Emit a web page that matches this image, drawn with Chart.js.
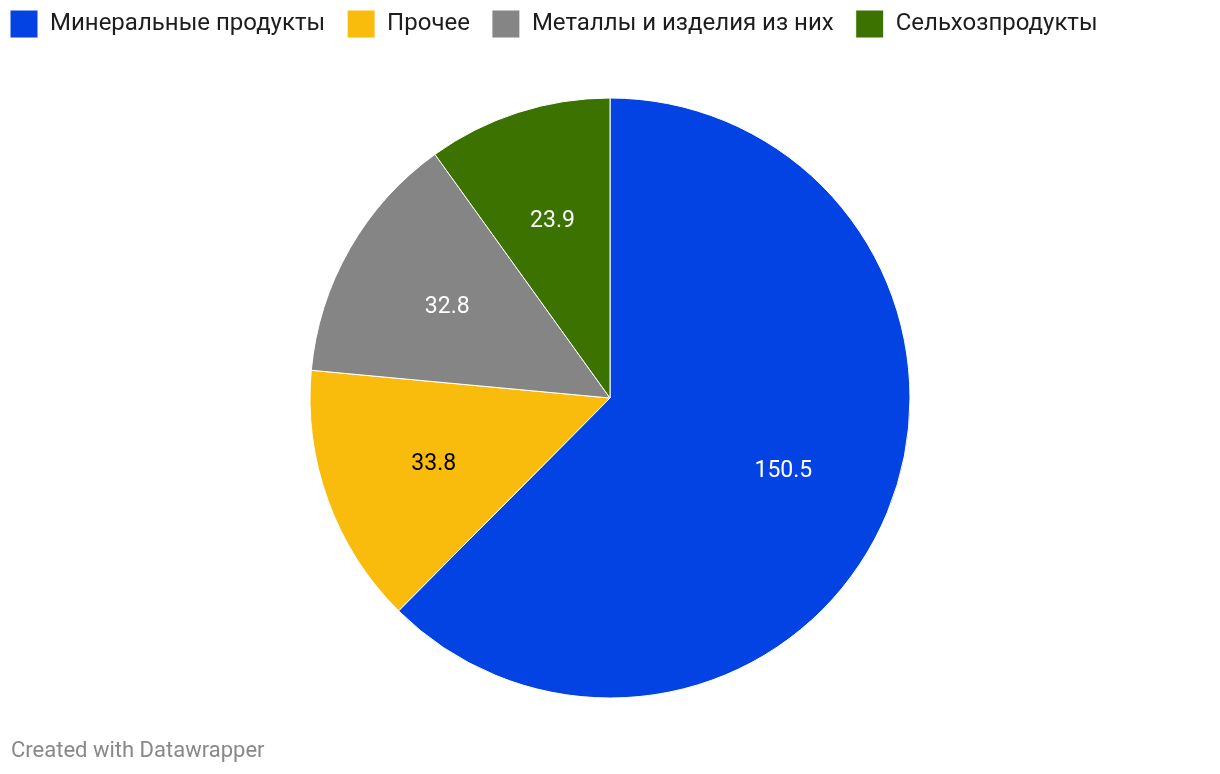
<!DOCTYPE html>
<html><head><meta charset="utf-8">
<script src="https://cdn.jsdelivr.net/npm/chart.js@4"></script>
<style>
html,body{margin:0;padding:0;background:#fff;overflow:hidden;}
#wrap{position:relative;width:1220px;height:774px;overflow:hidden;}
#c{position:absolute;left:-12px;top:-12px;}
#footer{position:absolute;left:11px;top:737px;font:22px Roboto;color:#888;white-space:nowrap;}
</style></head><body>
<div id="wrap"><canvas id="c" width="1244" height="760"></canvas>
<div id="footer">Created with Datawrapper</div></div>
<script>
const categories = ["Минеральные продукты","Прочее","Металлы и изделия из них","Сельхозпродукты"];
const values = [150.5, 33.8, 32.8, 23.9];
const colors = ["#0342E3","#FABC0C","#858585","#3C7300"];
const labelColors = ["#ffffff","#000000","#ffffff","#ffffff"];

const valueLabels = {
  id:'valueLabels',
  afterDatasetsDraw(chart){
    const ctx = chart.ctx;
    const meta = chart.getDatasetMeta(0);
    ctx.save();
    ctx.font = '23px Roboto';
    ctx.textAlign='center'; ctx.textBaseline='middle';
    meta.data.forEach((arc,i)=>{
      const mid = (arc.startAngle+arc.endAngle)/2;
      const r = arc.outerRadius*0.625;
      ctx.fillStyle = labelColors[i];
      ctx.fillText(values[i].toFixed(1), arc.x + Math.cos(mid)*r, arc.y + Math.sin(mid)*r + 2);
    });
    ctx.restore();
  }
};

new Chart(document.getElementById('c'),{
  type:'pie',
  data:{labels:categories,datasets:[{data:values,backgroundColor:colors,borderColor:'#ffffff',borderWidth:1,radius:300}]},
  options:{
    responsive:false,animation:false,
    layout:{padding:0},
    plugins:{
      legend:{position:'top',align:'start',
        labels:{boxWidth:28,boxHeight:28,padding:22,color:'#1d1d1d',font:{family:'Roboto',size:24}}},
      tooltip:{enabled:false}
    }
  },
  plugins:[valueLabels]
});
</script></body></html>
